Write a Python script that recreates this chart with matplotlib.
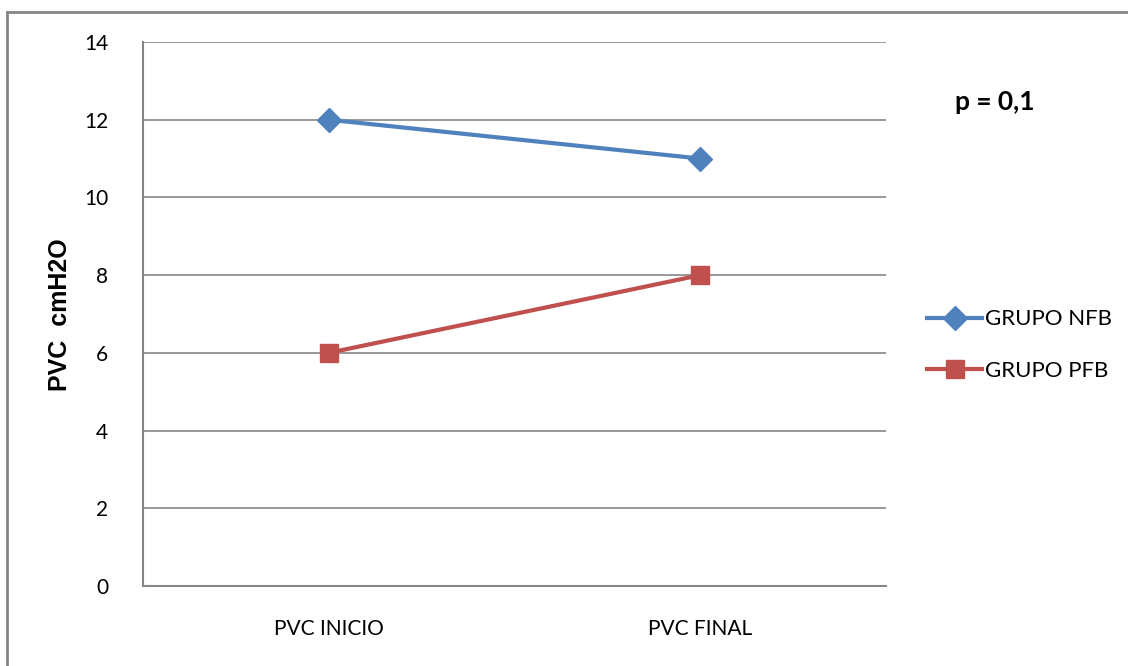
import matplotlib
matplotlib.use("Agg")
import matplotlib.pyplot as plt
from matplotlib.lines import Line2D

# Data
categories = ["PVC INICIO", "PVC FINAL"]
grupo_nfb = [12, 11]
grupo_pfb = [6, 8]
series_names = ["GRUPO NFB", "GRUPO PFB"]
y_ticks = [0, 2, 4, 6, 8, 10, 12, 14]

blue = "#4F81BD"
red = "#C0504D"
grey = "#868686"
font = ["Lato", "DejaVu Sans"]

W, H = 1128, 666
fig = plt.figure(figsize=(W / 100, H / 100), dpi=100)

# Outer chart frame
fig.add_artist(Line2D([7 / W, 1.0], [1 - 12 / H, 1 - 12 / H], color=grey, lw=2, transform=fig.transFigure))
fig.add_artist(Line2D([7 / W, 7 / W], [1 - 12 / H, 0.0], color=grey, lw=2, transform=fig.transFigure))

ax = fig.add_axes([143 / W, 1 - 586 / H, (886 - 143) / W, (586 - 42) / H])

x = range(len(categories))
ax.plot(x, grupo_nfb, color=blue, lw=3, marker="D", markersize=12, label=series_names[0], zorder=3)
ax.plot(x, grupo_pfb, color=red, lw=3, marker="s", markersize=13, label=series_names[1], zorder=3)

ax.set_xlim(-0.5, len(categories) - 0.5)
ax.set_ylim(0, 14)
ax.set_yticks(y_ticks)
ax.set_xticks(list(x))
ax.set_xticklabels(categories)
ax.yaxis.grid(True, color=grey, lw=1.2)
ax.set_axisbelow(True)

for s in ["top", "right"]:
    ax.spines[s].set_visible(False)
for s in ["left", "bottom"]:
    ax.spines[s].set_color(grey)
    ax.spines[s].set_linewidth(1.5)

ax.tick_params(axis="both", length=0, labelsize=15)
ax.tick_params(axis="y", pad=25)
ax.tick_params(axis="x", pad=24)
for lbl in ax.get_xticklabels() + ax.get_yticklabels():
    lbl.set_family(font)

ax.set_ylabel("PVC  cmH2O", fontsize=18, fontweight="bold", family=["Liberation Sans", "DejaVu Sans"],
              va="center")
ax.yaxis.set_label_coords((60 - 143) / (886 - 143), (586 - 315) / (586 - 42))

fig.text(995 / W, 1 - 102 / H, "p = 0,1", fontsize=19, fontweight="bold", family=font,
         ha="center", va="center")

leg = ax.legend(loc="center left", bbox_to_anchor=(1.043, 0.443), frameon=False,
                prop={"family": font, "size": 16}, handlelength=2.5, handletextpad=0.1,
                labelspacing=1.4, borderaxespad=0)

fig.savefig("out.png", dpi=100)
